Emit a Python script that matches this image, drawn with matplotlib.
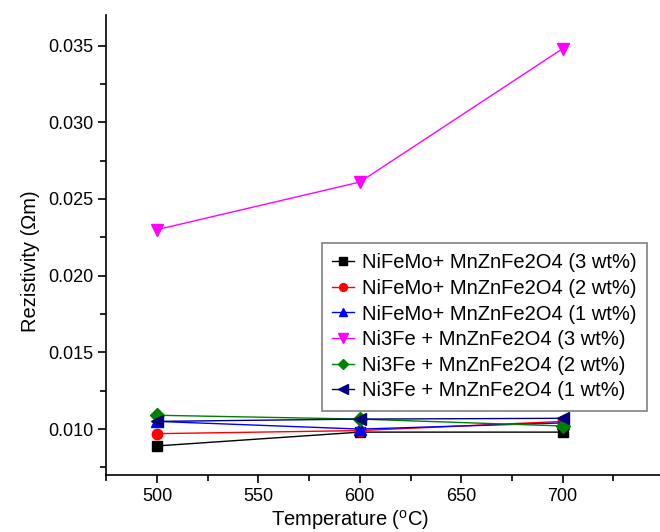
import matplotlib
matplotlib.use('Agg')
import matplotlib.pyplot as plt
from matplotlib.ticker import MultipleLocator, FormatStrFormatter

plt.rcParams['font.family'] = ['Liberation Sans', 'DejaVu Sans']
plt.rcParams['mathtext.fontset'] = 'custom'
plt.rcParams['mathtext.rm'] = 'Liberation Sans'

temperature = [500, 600, 700]

nifemo_3 = [0.0089, 0.0098, 0.0098]
nifemo_2 = [0.0097, 0.0099, 0.0105]
nifemo_1 = [0.0105, 0.0100, 0.0104]
ni3fe_3 = [0.0230, 0.0261, 0.0348]
ni3fe_2 = [0.0109, 0.01065, 0.0102]
ni3fe_1 = [0.0105, 0.01065, 0.0107]

labels = [
    "NiFeMo+ MnZnFe2O4 (3 wt%)",
    "NiFeMo+ MnZnFe2O4 (2 wt%)",
    "NiFeMo+ MnZnFe2O4 (1 wt%)",
    "Ni3Fe + MnZnFe2O4 (3 wt%)",
    "Ni3Fe + MnZnFe2O4 (2 wt%)",
    "Ni3Fe + MnZnFe2O4 (1 wt%)",
]
series = [nifemo_3, nifemo_2, nifemo_1, ni3fe_3, ni3fe_2, ni3fe_1]
colors = ['black', 'red', 'blue', 'magenta', '#008000', '#000080']
markers = ['s', 'o', '^', 'v', 'D', '<']
sizes = [7, 7.5, 8.5, 9, 7, 9]

fig = plt.figure(figsize=(6.6, 5.32), dpi=100)
ax = fig.add_axes([0.161, 0.107, 0.839, 0.865])

for y, lab, c, m, s in zip(series, labels, colors, markers, sizes):
    ax.plot(temperature, y, color=c, marker=m, markersize=s, lw=1,
            label=lab, markeredgecolor=c, markerfacecolor=c)

ax.set_xlim(475, 748)
ax.set_ylim(0.0070, 0.0370)
ax.xaxis.set_major_locator(MultipleLocator(50))
ax.xaxis.set_minor_locator(MultipleLocator(25))
ax.yaxis.set_major_locator(MultipleLocator(0.005))
ax.yaxis.set_minor_locator(MultipleLocator(0.0025))
ax.yaxis.set_major_formatter(FormatStrFormatter('%.3f'))
ax.tick_params(which='major', direction='out', length=6, width=1.2, labelsize=13, pad=3)
ax.tick_params(which='minor', direction='out', length=4, width=1.2)
ax.spines['top'].set_visible(False)
ax.spines['right'].set_visible(False)
ax.spines['left'].set_linewidth(1.2)
ax.spines['bottom'].set_linewidth(1.2)

ax.set_xlabel(r'Temperature ($^{\rm o}$C)', fontsize=14.5)
ax.set_ylabel('Rezistivity (\u03a9m)', fontsize=14.5)
ax.xaxis.set_label_coords(0.44, -0.072)
ax.yaxis.set_label_coords(-0.12, 0.465)

leg = ax.legend(loc='upper left', bbox_to_anchor=(0.39, 0.504), borderaxespad=0,
                fontsize=14.5, markerscale=0.75, handlelength=1.1, handletextpad=0.4,
                labelspacing=0.33, fancybox=False, framealpha=1, borderpad=0.5)
leg.get_frame().set_edgecolor('gray')
leg.get_frame().set_linewidth(1.2)

plt.savefig('out.png', dpi=100)
